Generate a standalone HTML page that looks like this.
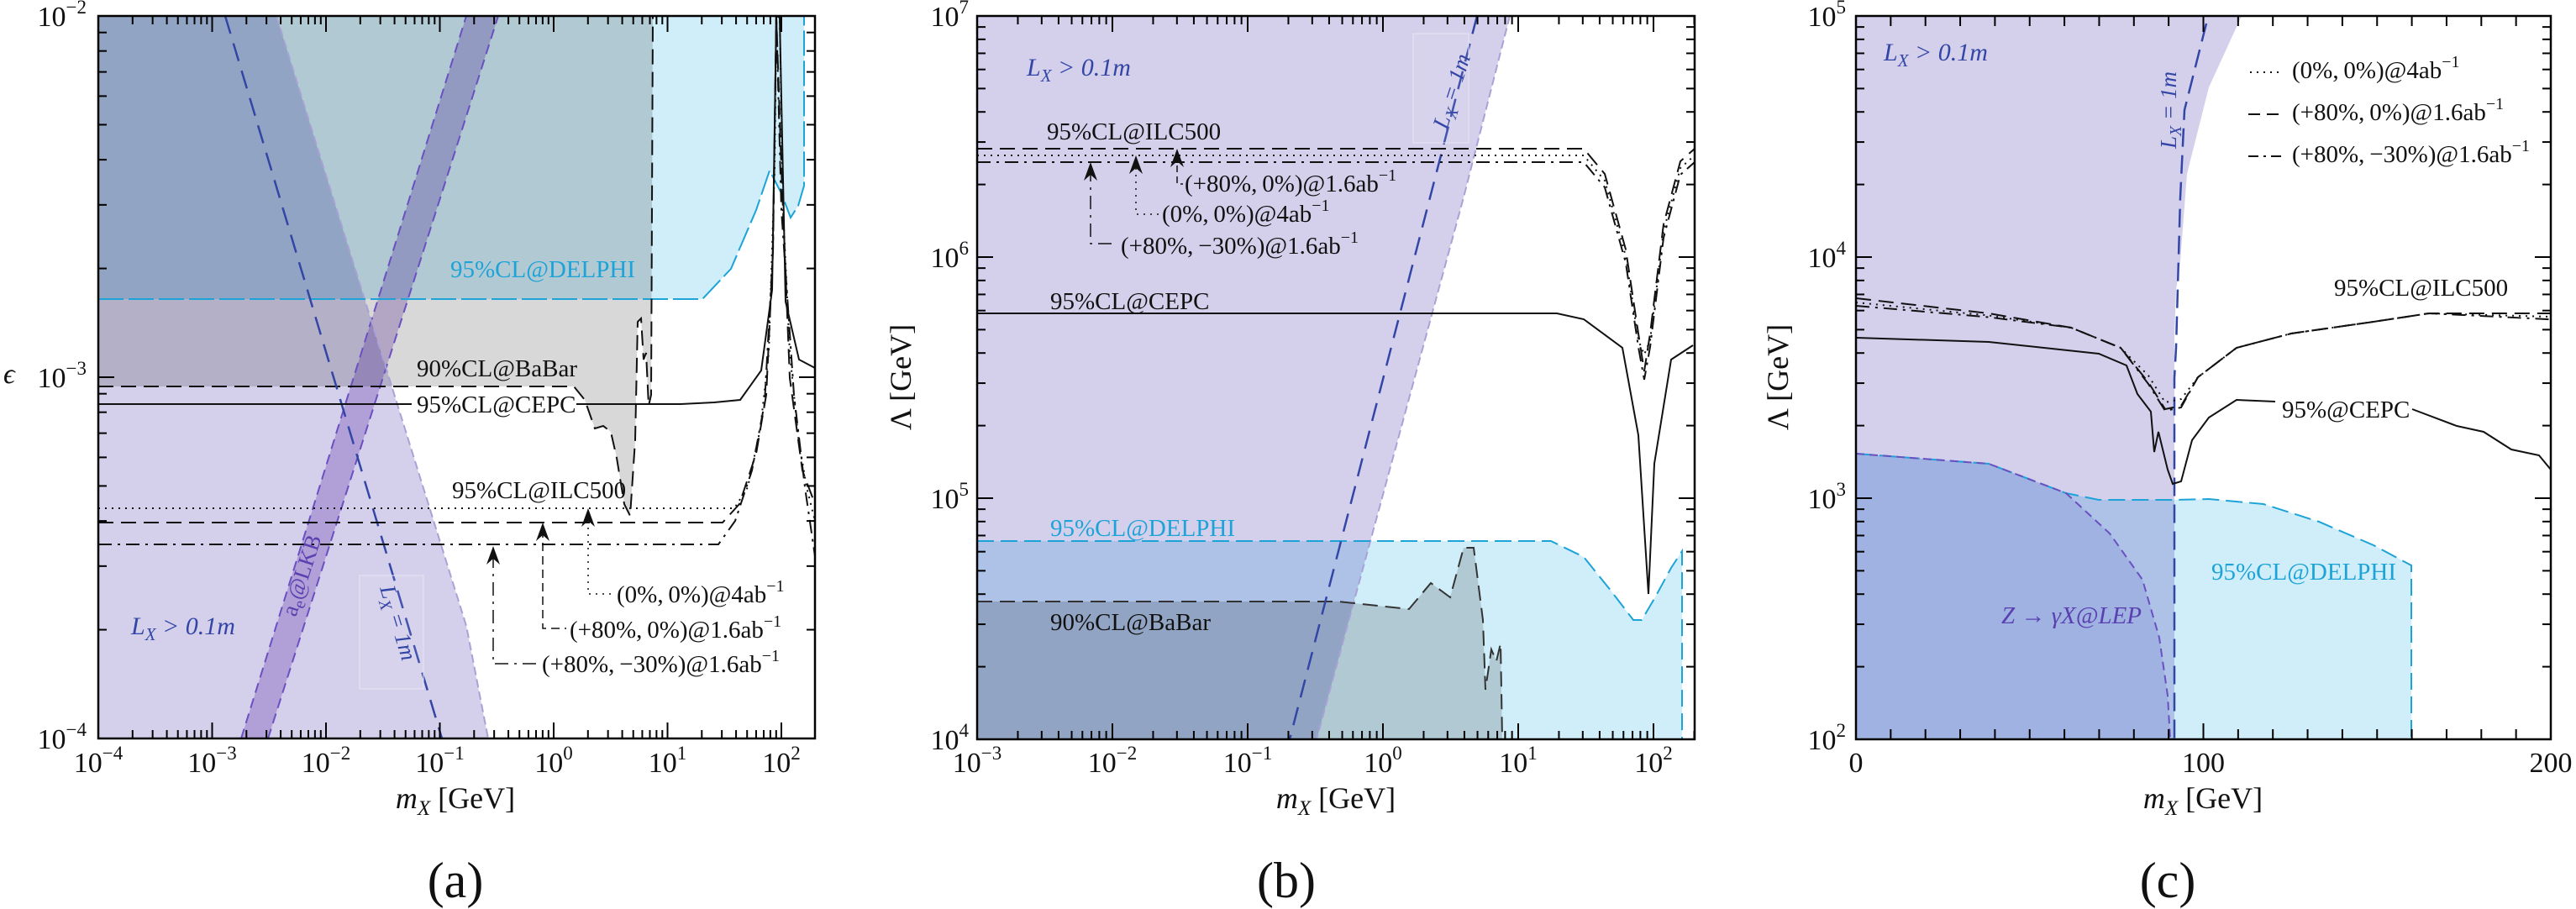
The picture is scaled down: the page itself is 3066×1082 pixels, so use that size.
<!DOCTYPE html>
<html><head><meta charset="utf-8"><style>
html,body{margin:0;padding:0;background:#fff;}
svg{display:block;}
svg text{font-family:"Liberation Serif","DejaVu Serif",serif;}
</style></head><body>
<svg id="s" width="3066" height="1082" viewBox="0 0 3066 1082" xmlns="http://www.w3.org/2000/svg" font-family="Liberation Serif, DejaVu Serif, serif"></svg>
<script>
const S=[];
const L10=Math.log10;
function P(a){return 'M'+a.map(p=>p[0].toFixed(1)+','+p[1].toFixed(1)).join(' L');}
function path(d,st){S.push(`<path d="${d}" ${st}/>`);}
function ln(x1,y1,x2,y2,st){S.push(`<line x1="${x1}" y1="${y1}" x2="${x2}" y2="${y2}" ${st||'stroke="#000" stroke-width="2"'}/>`);}
function txt(x,y,s,o){o=o||{};S.push(`<text x="${x}" y="${y}" font-family="Liberation Serif, DejaVu Serif, serif" font-size="${o.fs||29}" fill="${o.c||'#111'}" text-anchor="${o.a||'start'}" ${o.it?'font-style="italic"':''} ${o.tr?'transform="'+o.tr+'"':''}>${s}</text>`);}
function sup(b,e,fs){return `${b}<tspan dy="-${Math.round(fs*0.45)}" font-size="${Math.round(fs*0.68)}">${e}</tspan>`;}
const FILL='style="mix-blend-mode:multiply"';
const K='stroke="#111" fill="none" stroke-width="2"';
const DASH='stroke-dasharray="18,9"', DOT='stroke-dasharray="2,6"', DD='stroke-dasharray="16,7,3,7"';
function clip(id,x0,y0,x1,y1){S.push(`<clipPath id="${id}"><rect x="${x0}" y="${y0}" width="${x1-x0}" height="${y1-y0}"/></clipPath><g clip-path="url(#${id})">`);}
function arrow(x,y){path(`M${x},${y} L${x-8},${y+22} L${x},${y+15} L${x+8},${y+22} Z`,'fill="#111"');}
function logTicks(axis,x0,x1,y0,y1,d0,d1,F){
 for(let d=d0;d<=d1;d++)for(let k=1;k<=9;k++){const v=k*Math.pow(10,d);const p=F(v);const len=k==1?19:10;
  if(axis=='x'){if(p<x0-0.5||p>x1+0.5)continue;ln(p,y1,p,y1-len);ln(p,y0,p,y0+len);}
  else{if(p<y0-0.5||p>y1+0.5)continue;ln(x0,p,x0+len,p);ln(x1,p,x1-len,p);}}
}
const MX='m<tspan font-style="italic" font-size="25" dy="8">X</tspan><tspan dy="-8"> [GeV]</tspan>';
/* ========== PANEL A ========== */
(function(){
 const x0=117,x1=970,y0=19,y1=879;
 const X=m=>117+135.5*(L10(m)+4), Y=e=>879-430*(L10(e)+4);
 clip('ca',x0,y0,x1,y1);
 path(P([[117,19],[117,356],[836,356],[870,320],[900,250],[916,203],[930,230],[941,259],[950,245],[957,221],[957,19]])+'Z','fill="#d0eef9" '+FILL);
 const bb=[[117,460],[683,460],[696,476],[708,510],[718,507],[727,514],[734,545],[743,600],[750,614],[756,524],[759,383],[763,379],[766,428],[769,420],[772,483],[775,470],[777,19]];
 path(P([[117,19]].concat(bb))+'Z','fill="#d8d8d8" '+FILL);
 path(P([[117,19],[329,19],[555,745],[581,879],[117,879]])+'Z','fill="#d4d0ec" '+FILL);
 path(P([[287,879],[555,19],[593,19],[319,879]])+'Z','fill="#d4c4e9" '+FILL);
 path(P([[287,879],[555,19]]),'stroke="#6a50c0" fill="none" stroke-width="2" stroke-dasharray="12,7"');
 path(P([[319,879],[593,19]]),'stroke="#6a50c0" fill="none" stroke-width="2" stroke-dasharray="12,7"');
 path(P([[329,19],[555,745],[581,879]]),'stroke="#a9a2d6" fill="none" stroke-width="2" stroke-dasharray="10,5"');
 path(P([[117,356],[836,356],[870,320],[900,250],[916,203],[930,230],[941,259],[950,245],[957,221],[957,19]]),'stroke="#1ca3d8" fill="none" stroke-width="2" stroke-dasharray="30,6"');
 path(P(bb),K+' '+DASH);
 path(P([[268,19],[526,879]]),'stroke="#3346a6" fill="none" stroke-width="2.5" stroke-dasharray="22,12"');
 path(P([[117,481],[490,481]]),K);
 path(P([[686,481],[810,481],[850,479],[881,476],[906,441],[919,345],[924,19],[928,21],[935,359],[951,428],[970,438]]),K);
 path(P([[117,605],[874,605],[890,580],[905,510],[915,420],[922,200],[924,19],[928,19],[932,250],[940,420],[950,520],[960,580],[970,620]]),K+' '+DOT);
 path(P([[117,622],[860,622],[880,600],[900,540],[912,470],[920,300],[924,19],[930,200],[940,450],[955,560],[970,600]]),K+' '+DASH);
 path(P([[117,648],[855,648],[875,620],[895,560],[910,480],[920,300],[924,19],[930,250],[945,470],[958,580],[970,662]]),K+' '+DD);
 S.push('</g>');
 path(P([[587,660],[587,790],[640,790]]),'stroke="#111" fill="none" stroke-width="1.5" '+DD);arrow(587,650);
 path(P([[646,630],[646,748],[674,748]]),'stroke="#111" fill="none" stroke-width="1.5" stroke-dasharray="10,6"');arrow(646,622);
 path(P([[700,612],[700,707],[730,707]]),'stroke="#111" fill="none" stroke-width="1.5" '+DOT);arrow(700,605);
 txt(646,330,'95%CL@DELPHI',{c:'#1ca3d8',a:'middle'});
 txt(496,448,'90%CL@BaBar');
 txt(496,491,'95%CL@CEPC');
 txt(538,593,'95%CL@ILC500');
 txt(734,717,sup('(0%,&#8201;0%)@4ab','−1',29));
 txt(678,759,sup('(+80%,&#8201;0%)@1.6ab','−1',29));
 txt(645,800,sup('(+80%,&#8201;−30%)@1.6ab','−1',29));
 txt(156,755,'L<tspan font-size="21" dy="7">X</tspan><tspan dy="-7"> &gt; 0.1m</tspan>',{c:'#3346a6',it:1,fs:30});
 txt(0,0,'a<tspan font-size="20" dy="6">e</tspan><tspan dy="-6">@LKB</tspan>',{c:'#5a40b0',fs:27,tr:'translate(352,735) rotate(-72)'});
 S.push('<rect x="428" y="685" width="76" height="135" fill="#fff" fill-opacity="0.08" stroke="#e8e6f4" stroke-width="1"/>');
 txt(0,0,'L<tspan font-size="20" dy="6">X</tspan><tspan dy="-6"> = 1m</tspan>',{c:'#3346a6',fs:27,it:1,tr:'translate(452,700) rotate(73)'});
 S.push(`<rect x="${x0}" y="${y0}" width="${x1-x0}" height="${y1-y0}" fill="none" stroke="#000" stroke-width="2.5"/>`);
 logTicks('x',x0,x1,y0,y1,-4,2,X);
 logTicks('y',x0,x1,y0,y1,-4,-3,Y);
 for(let d=-4;d<=2;d++)txt(X(Math.pow(10,d)),919,sup('10',(d<0?'−':'')+Math.abs(d),34),{fs:34,a:'middle'});
 [[-2,19],[-3,449],[-4,879]].forEach(a=>txt(103,a[1]+12,sup('10','−'+(-a[0]),34),{fs:34,a:'end'}));
 txt(4,456,'ϵ',{fs:34,it:1});
 txt(542,962,'<tspan font-style="italic">'+MX.slice(0,1)+'</tspan>'+MX.slice(1),{fs:36,a:'middle'});
 txt(542,1068,'(a)',{fs:60,a:'middle'});
})();
/* ========== PANEL B ========== */
(function(){
 const x0=1163,x1=2017,y0=19,y1=880;
 const X=m=>1163+161*(L10(m)+3), Y=v=>880-287*(L10(v)-4);
 clip('cb',x0,y0,x1,y1);
 const del=[[1163,644],[1846,644],[1885,663],[1918,704],[1944,738],[1954,738],[1970,711],[1989,676],[2002,656],[2002,880]];
 path(P(del.concat([[1163,880]]))+'Z','fill="#d0eef9" '+FILL);
 const bb=[[1163,716],[1593,716],[1677,725],[1703,694],[1726,711],[1742,652],[1754,652],[1765,738],[1768,821],[1775,773],[1781,787],[1786,766],[1788,880]];
 path(P(bb.concat([[1163,880]]))+'Z','fill="#d8d8d8" '+FILL);
 path(P([[1163,19],[1797,19],[1742,235],[1567,880],[1163,880]])+'Z','fill="#d4d0ec" '+FILL);
 path(P([[1797,19],[1742,235],[1567,880]]),'stroke="#a9a2d6" fill="none" stroke-width="2" stroke-dasharray="10,5"');
 path(P(del),'stroke="#1ca3d8" fill="none" stroke-width="2" stroke-dasharray="20,8"');
 path(P(bb),'stroke="#333" fill="none" stroke-width="2" '+DASH);
 path(P([[1758,19],[1535,880]]),'stroke="#3346a6" fill="none" stroke-width="2.5" stroke-dasharray="22,12"');
 path(P([[1163,373],[1853,373],[1885,380],[1931,414],[1950,518],[1962,707],[1969,552],[1989,428],[2015,411]]),K);
 const ilc=(y,st,dy)=>path(P([[1163,y],[1885,y],[1910,y+30],[1935,y+120],[1950,y+220],[1957,442+dy],[1964,y+220],[1980,y+90],[2000,y+15],[2017,y]]),K+' '+st);
 ilc(177,DASH,0);ilc(185,DOT,-20);ilc(193,DD,10);
 S.push('</g>');
 path(P([[1298,200],[1298,290],[1330,290]]),'stroke="#111" fill="none" stroke-width="1.5" '+DD);arrow(1298,193);
 path(P([[1352,192],[1352,255],[1380,255]]),'stroke="#111" fill="none" stroke-width="1.5" '+DOT);arrow(1352,185);
 path(P([[1401,184],[1401,219],[1408,219]]),'stroke="#111" fill="none" stroke-width="1.5" stroke-dasharray="8,5"');arrow(1401,177);
 txt(1246,166,'95%CL@ILC500');
 txt(1410,228,sup('(+80%,&#8201;0%)@1.6ab','−1',29));
 txt(1383,264,sup('(0%,&#8201;0%)@4ab','−1',29));
 txt(1334,302,sup('(+80%,&#8201;−30%)@1.6ab','−1',29));
 txt(1250,368,'95%CL@CEPC');
 txt(1250,638,'95%CL@DELPHI',{c:'#1ca3d8'});
 txt(1250,750,'90%CL@BaBar');
 txt(1222,90,'L<tspan font-size="21" dy="7">X</tspan><tspan dy="-7"> &gt; 0.1m</tspan>',{c:'#3346a6',it:1,fs:30});
 S.push('<rect x="1682" y="40" width="66" height="130" fill="#fff" fill-opacity="0.08" stroke="#e8e6f4" stroke-width="1"/>');
 txt(0,0,'L<tspan font-size="20" dy="6">X</tspan><tspan dy="-6"> = 1m</tspan>',{c:'#3346a6',fs:27,it:1,tr:'translate(1722,155) rotate(-72)'});
 S.push(`<rect x="${x0}" y="${y0}" width="${x1-x0}" height="${y1-y0}" fill="none" stroke="#000" stroke-width="2.5"/>`);
 logTicks('x',x0,x1,y0,y1,-3,2,X);
 logTicks('y',x0,x1,y0,y1,4,6,Y);
 for(let d=-3;d<=2;d++)txt(X(Math.pow(10,d)),919,sup('10',(d<0?'−':'')+Math.abs(d),34),{fs:34,a:'middle'});
 for(let d=4;d<=7;d++)txt(1153,Y(Math.pow(10,d))+12,sup('10',''+d,34),{fs:34,a:'end'});
 txt(0,0,'Λ [GeV]',{fs:36,a:'middle',tr:'translate(1084,449) rotate(-90)'});
 txt(1590,962,'<tspan font-style="italic">m</tspan>'+MX.slice(1),{fs:36,a:'middle'});
 txt(1531,1068,'(b)',{fs:60,a:'middle'});
})();
/* ========== PANEL C ========== */
(function(){
 const x0=2209,x1=3036,y0=19,y1=880;
 const X=m=>2209+4.135*m, Y=v=>880-287*(L10(v)-2);
 clip('cc',x0,y0,x1,y1);
 const del=[[2209,540],[2367,552],[2459,587],[2498,595],[2590,595],[2629,594],[2694,600],[2760,621],[2825,649],[2870,673],[2870,880]];
 path(P(del.concat([[2209,880]]))+'Z','fill="#d0eef9" '+FILL);
 const lep=[[2209,540],[2367,552],[2459,587],[2511,635],[2550,690],[2570,759],[2580,828],[2583,880]];
 path(P(lep.concat([[2209,880]]))+'Z','fill="#ebebfa" '+FILL);
 path(P([[2209,19],[2668,19],[2629,104],[2603,207],[2595,311],[2590,345],[2588,400],[2588,880],[2209,880]])+'Z','fill="#d4d0ec" '+FILL);
 path(P(del),'stroke="#1ca3d8" fill="none" stroke-width="2" stroke-dasharray="20,8"');
 path(P(lep),'stroke="#6a50c0" fill="none" stroke-width="2" stroke-dasharray="10,6"');
 path(P([[2626,28],[2600,131],[2595,235],[2590,414],[2588,450],[2588,880]]),'stroke="#3346a6" fill="none" stroke-width="2.5" stroke-dasharray="22,10"');
 path(P([[2209,402],[2367,407],[2498,421],[2531,435],[2544,469],[2560,490],[2564,538],[2569,514],[2580,559],[2586,576],[2596,573],[2609,524],[2629,497],[2662,476],[2708,478]]),K);
 path(P([[2871,487],[2924,507],[2956,514],[2989,535],[3022,542],[3036,559]]),K);
 const ilc=(y,st,dm)=>path(P([[2209,y],[2367,373+(y-355)*0.5],[2465,390],[2524,414],[2557,455+dm],[2577,487+dm],[2596,483+dm],[2616,449],[2662,414],[2727,397],[2825,383],[2891,373],[3036,373+(y-355)*0.8]]),K+' '+st);
 ilc(360,DOT,-8);ilc(355,DASH,0);ilc(364,DD,2);
 S.push('</g>');
 path('M2678,86 L2714,86',K+' '+DOT);
 path('M2676,136 L2716,136',K+' stroke-dasharray="14,8"');
 path('M2676,186 L2716,186',K+' stroke-dasharray="12,6,3,6"');
 txt(2728,93,sup('(0%,&#8201;0%)@4ab','−1',29));
 txt(2728,143,sup('(+80%,&#8201;0%)@1.6ab','−1',29));
 txt(2728,193,sup('(+80%,&#8201;−30%)@1.6ab','−1',29));
 txt(2778,352,'95%CL@ILC500');
 txt(2716,497,'95%@CEPC');
 txt(2632,690,'95%CL@DELPHI',{c:'#1ca3d8'});
 txt(2382,742,'Z → γX@LEP',{c:'#5a40b0',it:1});
 txt(2242,72,'L<tspan font-size="21" dy="7">X</tspan><tspan dy="-7"> &gt; 0.1m</tspan>',{c:'#3346a6',it:1,fs:30});
 txt(0,0,'L<tspan font-size="20" dy="6">X</tspan><tspan dy="-6"> = 1m</tspan>',{c:'#3346a6',fs:27,it:1,a:'middle',tr:'translate(2590,131) rotate(-90)'});
 S.push(`<rect x="${x0}" y="${y0}" width="${x1-x0}" height="${y1-y0}" fill="none" stroke="#000" stroke-width="2.5"/>`);
 for(let m=0;m<=200;m+=10){const p=X(m);const len=m%100==0?19:12;ln(p,y1,p,y1-len);ln(p,y0,p,y0+len);}
 logTicks('y',x0,x1,y0,y1,2,4,Y);
 [0,100,200].forEach(m=>txt(X(m),919,''+m,{fs:34,a:'middle'}));
 for(let d=2;d<=5;d++)txt(2197,Y(Math.pow(10,d))+12,sup('10',''+d,34),{fs:34,a:'end'});
 txt(0,0,'Λ [GeV]',{fs:36,a:'middle',tr:'translate(2128,449) rotate(-90)'});
 txt(2622,962,'<tspan font-style="italic">m</tspan>'+MX.slice(1),{fs:36,a:'middle'});
 txt(2580,1068,'(c)',{fs:60,a:'middle'});
})();
document.getElementById('s').innerHTML=S.join('');
</script>
</body></html>
